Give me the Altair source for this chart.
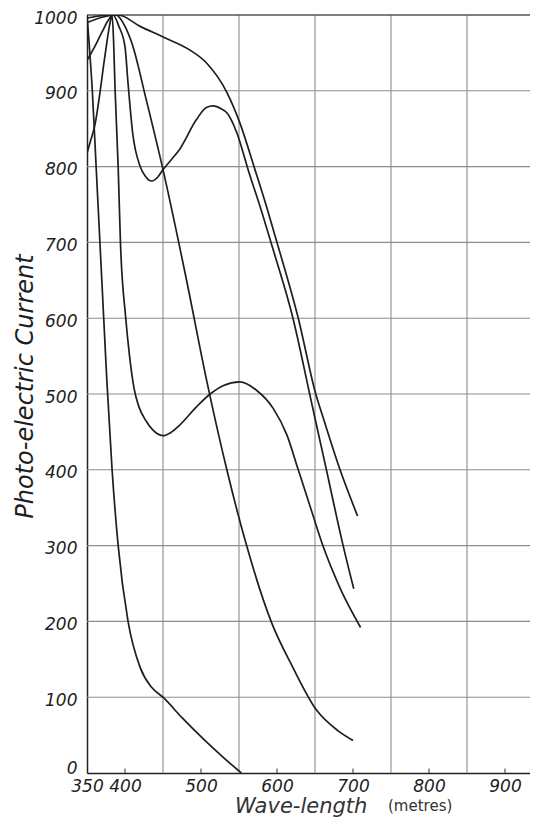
import altair as alt
import pandas as pd

# ---- data ----
curve_f_x = [350, 353, 357, 362, 367, 372, 376, 383, 391, 404, 420, 435, 450, 475, 503, 530, 553]
curve_f_y = [1000, 960, 900, 800, 700, 600, 520, 400, 300, 200, 139, 113, 100, 73, 45, 20, 0]

curve_c_x = [350, 355, 360, 367, 372, 376, 380, 383, 385, 387, 391, 394, 401, 406, 412, 418, 428, 442,
             450, 460, 472, 494, 512, 529, 551, 573, 595, 613, 628, 647, 660, 683, 710]
curve_c_y = [818, 835, 853, 897, 935, 963, 988, 1000, 965, 900, 800, 700, 600, 550, 507, 484, 464, 448,
             445, 449, 459, 483, 500, 511, 516, 505, 481, 446, 400, 341, 301, 244, 192]

curve_b_x = [350, 360, 370, 378, 384, 392, 400, 404, 410, 420, 427, 435, 443, 450, 460, 472, 494, 507,
             516, 527, 534, 547, 562, 580, 596, 621, 643, 650, 665, 687, 701]
curve_b_y = [940, 958, 978, 993, 1000, 985, 958, 910, 845, 800, 787, 781, 786, 796, 808, 823, 862, 878,
             880, 876, 871, 845, 796, 740, 687, 600, 500, 468, 400, 300, 243]

curve_d_x = [350, 370, 388, 400, 409, 428, 450, 480, 507, 534, 560, 593, 621, 652, 680, 700]
curve_d_y = [990, 997, 1000, 985, 963, 888, 796, 655, 520, 400, 300, 198, 139, 83, 56, 43]

curve_a_x = [350, 370, 391, 420, 450, 485, 507, 534, 551, 571, 586, 600, 628, 651, 661, 683, 706]
curve_a_y = [996, 999, 1000, 985, 971, 954, 937, 898, 858, 796, 748, 700, 600, 500, 468, 400, 339]

x_label_values = [350, 400, 500, 600, 700, 800, 900]
x_grid_values = [450, 550, 650, 750, 850]
x_tick_values = [400, 500, 600, 700, 800, 900]
y_values = [0, 100, 200, 300, 400, 500, 600, 700, 800, 900, 1000]
y_grid_values = [100, 200, 300, 400, 500, 600, 700, 800, 900]
y_top = [1000]
x_range = [350, 932.9]
y_range = [0, 1000]
tick_len = 6

x_title = "Wave-length"
x_unit = "(metres)"
y_title = "Photo-electric Current"

# ---- build tables ----
rows = []
for name, xs, ys in [("F", curve_f_x, curve_f_y), ("C", curve_c_x, curve_c_y),
                     ("B", curve_b_x, curve_b_y), ("D", curve_d_x, curve_d_y),
                     ("A", curve_a_x, curve_a_y)]:
    for xv, yv in zip(xs, ys):
        rows.append({"curve": name, "x": xv, "y": yv})
df = pd.DataFrame(rows)

vgrid_df = pd.DataFrame({"x": x_grid_values, "y": [y_range[0]] * len(x_grid_values),
                         "y2": [y_range[1]] * len(x_grid_values)})
hgrid_df = pd.DataFrame({"y": y_grid_values, "x": [x_range[0]] * len(y_grid_values),
                         "x2": [x_range[1]] * len(y_grid_values)})
top_df = pd.DataFrame({"y": y_top, "x": [x_range[0]], "x2": [x_range[1]]})
tick_df = pd.DataFrame({"x": x_tick_values, "y": [0] * len(x_tick_values),
                        "y2": [tick_len] * len(x_tick_values)})

xscale = alt.Scale(domain=x_range, nice=False, zero=False)
yscale = alt.Scale(domain=y_range, nice=False, zero=False)

FONT = "DejaVu Sans"
INK = "#1e1e1e"
GRID = "#8c8c8c"

xaxis = alt.Axis(values=x_label_values, title=None, grid=False, ticks=False, tickSize=0,
                 domain=True, domainColor="#222", domainWidth=1.5,
                 labelFont=FONT, labelFontStyle="italic", labelFontSize=17, labelColor=INK,
                 labelPadding=5, labelFlush=False, labelOverlap=False, format="d")
yaxis = alt.Axis(values=y_values, title=y_title, grid=False, ticks=False, tickSize=0,
                 domain=True, domainColor="#222", domainWidth=1.5,
                 labelFont=FONT, labelFontStyle="italic", labelFontSize=17, labelColor=INK,
                 labelPadding=10, labelFlush=False, labelOverlap=False, format="d",
                 labelOffset={"condition": {"test": "datum.value === 0", "value": -5}, "value": 3},
                 titleFont=FONT, titleFontStyle="italic", titleFontWeight="normal",
                 titleFontSize=24, titleColor=INK, titleAngle=270, titleAlign="center",
                 titleBaseline="alphabetic", titleX=-55, titleY=371)

X = lambda f="x:Q": alt.X(f, scale=xscale, axis=xaxis)
Y = lambda f="y:Q": alt.Y(f, scale=yscale, axis=yaxis)

vgrid = alt.Chart(vgrid_df).mark_rule(color=GRID, strokeWidth=1.1).encode(
    x=X(), y=Y(), y2="y2:Q")

hgrid = alt.Chart(hgrid_df).mark_rule(color=GRID, strokeWidth=1.1).encode(
    y=Y(), x=X(), x2="x2:Q")

top = alt.Chart(top_df).mark_rule(color="#555", strokeWidth=1.4).encode(
    y=Y(), x=X(), x2="x2:Q")

ticks = alt.Chart(tick_df).mark_rule(color="#444", strokeWidth=1.1).encode(
    x=X(), y=Y(), y2="y2:Q")

lines = alt.Chart(df).mark_line(interpolate="monotone", color=INK, strokeWidth=1.7, clip=True).encode(
    x=X(), y=Y(), detail="curve:N")

t1 = alt.Chart(pd.DataFrame({"t": [x_title]})).mark_text(
    font=FONT, fontStyle="italic", fontSize=21, color="#333", align="left", baseline="alphabetic"
).encode(x=alt.value(148), y=alt.value(798), text="t:N")

t2 = alt.Chart(pd.DataFrame({"t": [x_unit]})).mark_text(
    font=FONT, fontSize=15, color="#333", align="left", baseline="alphabetic"
).encode(x=alt.value(301), y=alt.value(796), text="t:N")

chart = alt.layer(hgrid, vgrid, top, ticks, lines, t1, t2).properties(
    width=443, height=758,
    padding={"left": 79, "top": 7, "right": 0, "bottom": 45},
    autosize=alt.AutoSizeParams(type="none"),
    background="white",
).configure_view(stroke=None)

chart.save("out.html", embed_options={"renderer": "svg", "actions": False})
